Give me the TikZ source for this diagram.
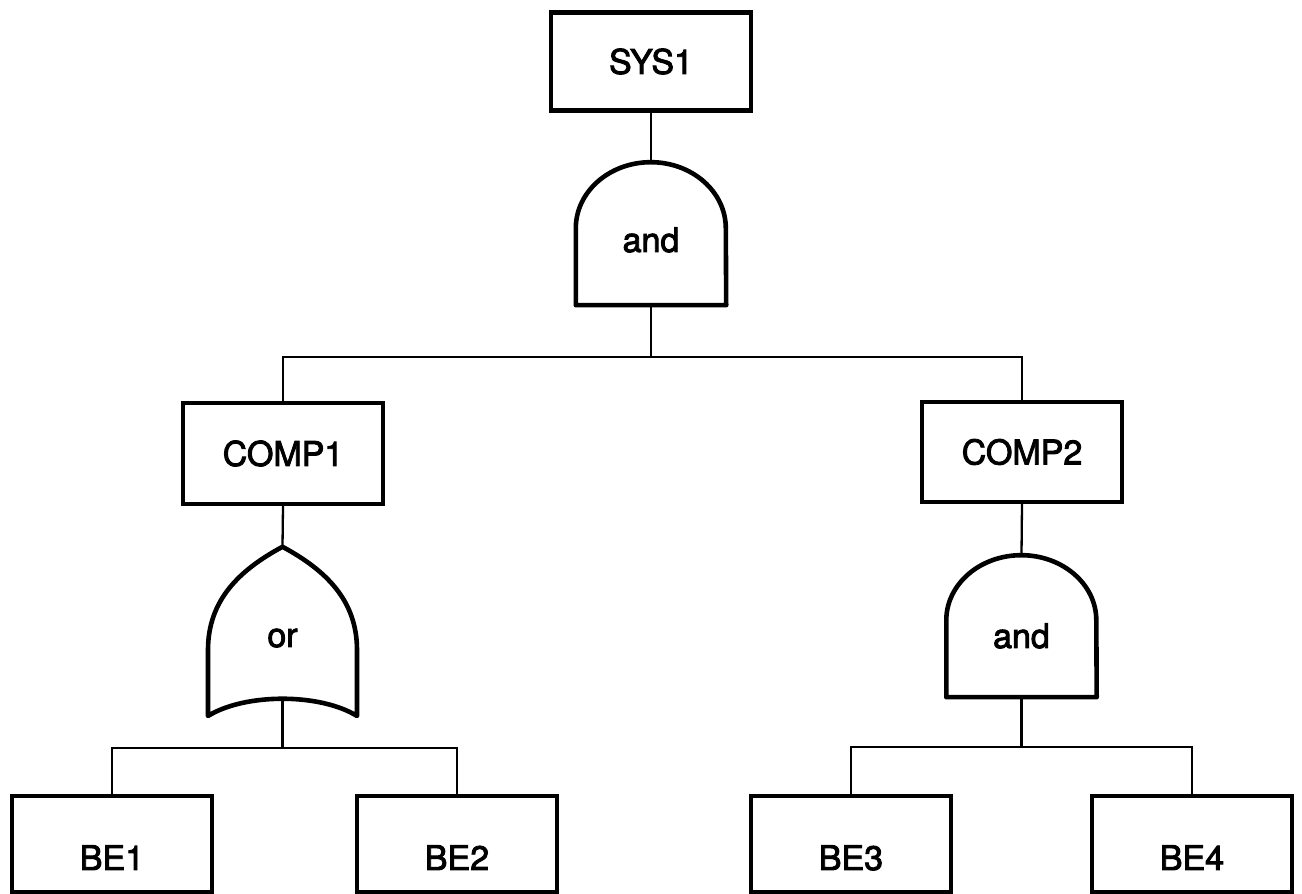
\documentclass[tikz,border=0pt]{standalone}
\usepackage{fontspec}
\setmainfont{TeX Gyre Heros}[FakeBold=2.6]
\begin{document}
\begin{tikzpicture}[x=1pt,y=1pt,
  eventbox/.style={draw,line width=4.4pt,minimum width=200pt,minimum height=98pt,
    inner sep=0pt,font=\fontsize{34}{40}\selectfont},
  basicbox/.style={eventbox,minimum height=96pt,text height=52pt,text depth=0pt},
  gatearea/.style={inner sep=0pt,minimum width=150pt,minimum height=143pt},
  gateline/.style={line width=4.6pt,line join=round},
  gatelabel/.style={anchor=base,inner sep=0pt,font=\fontsize{34}{40}\selectfont},
  conn/.style={line width=2.3pt}]
\useasboundingbox (0,0) rectangle (1302,894);

% events
\node[eventbox] (sys1) at (651,832.5) {SYS1};
\node[eventbox,minimum height=101pt] (comp1) at (283,440.5) {COMP1};
\node[eventbox,minimum height=100pt] (comp2) at (1022,442) {COMP2};
\node[basicbox] (be1) at (112,50) {BE1};
\node[basicbox] (be2) at (457,50) {BE2};
\node[basicbox] (be3) at (851,50) {BE3};
\node[basicbox] (be4) at (1192,50) {BE4};

% gate areas
\node[gatearea] (g1) at (651,660.5) {};
\node[gatearea,minimum width=149pt,minimum height=173pt] (g2) at (282.5,260.5) {};
\node[gatearea,minimum height=142pt] (g3) at (1021.5,268) {};

% gate outlines
\draw[gateline] (g1.south west) -- ++(0,77)
  arc[start angle=180,end angle=0,x radius=75,y radius=66] -- (g1.south east) -- cycle;
\draw[gateline] (g3.south west) -- ++(0,77)
  arc[start angle=180,end angle=0,x radius=75,y radius=65] -- (g3.south east) -- cycle;
\draw[gateline] (g2.north) .. controls (239.5,324) and (208,294) .. (208,244)
  -- (208,178) .. controls (245,201) and (320,201) .. (357,178)
  -- (357,244) .. controls (357,294) and (325.5,324) .. (g2.north) -- cycle;

% gate labels
\node[gatelabel] (g1lbl) at (651,642) {and};
\node[gatelabel] (g2lbl) at (282.5,247) {or};
\node[gatelabel] (g3lbl) at (1021.5,246) {and};

% junction points
\coordinate (j1) at (651,537);
\coordinate (g2out) at (282.5,195.5);
\coordinate (j2) at (282.5,146);
\coordinate (j3) at (1021.5,147);

% connectors
\draw[conn] (sys1.south) -- (g1.north);
\draw[conn] (g1.south) -- (j1);
\draw[conn] (comp1.north) |- (j1) -| (comp2.north);
\draw[conn] (comp1.south) -- (g2.north);
\draw[conn] (comp2.south) -- (g3.north);
\draw[conn] (g2out) -- (j2);
\draw[conn] (be1.north) |- (j2) -| (be2.north);
\draw[conn] (g3.south) -- (j3);
\draw[conn] (be3.north) |- (j3) -| (be4.north);
\end{tikzpicture}
\end{document}
